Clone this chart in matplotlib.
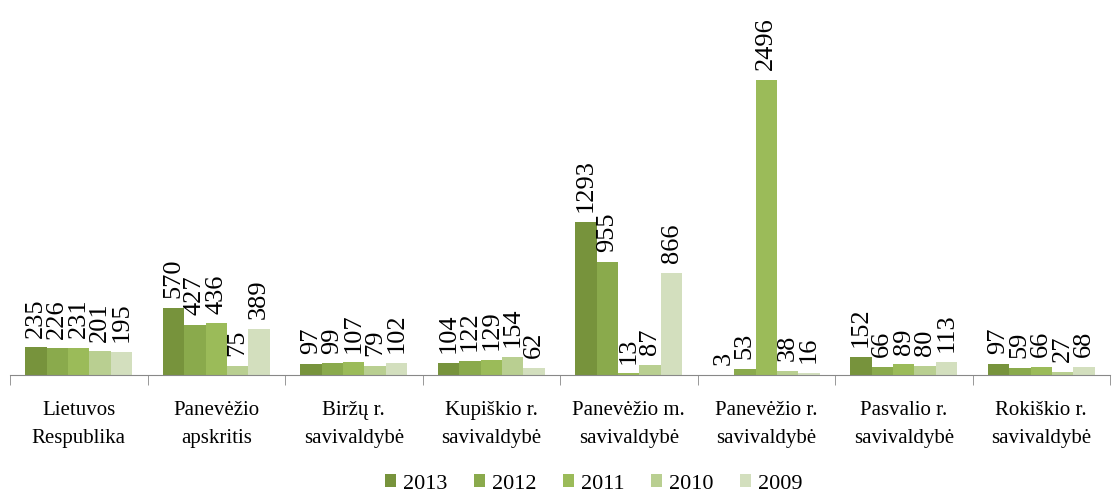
import numpy as np
import matplotlib
matplotlib.use('Agg')
import matplotlib.pyplot as plt

plt.rcParams['font.family'] = ['Liberation Serif', 'DejaVu Serif']

categories = ['Lietuvos\nRespublika', 'Panevėžio\napskritis', 'Biržų r.\nsavivaldybė',
              'Kupiškio r.\nsavivaldybė', 'Panevėžio m.\nsavivaldybė', 'Panevėžio r.\nsavivaldybė',
              'Pasvalio r.\nsavivaldybė', 'Rokiškio r.\nsavivaldybė']
years = ['2013', '2012', '2011', '2010', '2009']
v2013 = [235, 570, 97, 104, 1293, 3, 152, 97]
v2012 = [226, 427, 99, 122, 955, 53, 66, 59]
v2011 = [231, 436, 107, 129, 13, 2496, 89, 66]
v2010 = [201, 75, 79, 154, 87, 38, 80, 27]
v2009 = [195, 389, 102, 62, 866, 16, 113, 68]
series = [v2013, v2012, v2011, v2010, v2009]
colors = ['#77933C', '#8AAA4C', '#9BBB59', '#B9CF91', '#D3DFBE']

fig = plt.figure(figsize=(11.16, 4.95), dpi=100)
ax = fig.add_axes([10/1116, 120/495, 1100/1116, 375/495])

x = np.arange(len(categories))
w = 0.156
for i, (vals, c, yr) in enumerate(zip(series, colors, years)):
    pos = x + (i - 2) * w
    ax.bar(pos, vals, width=w, color=c, label=yr)
    for px, v in zip(pos, vals):
        ax.annotate(str(v), (px, v), xytext=(0, 7), textcoords='offset points',
                    rotation=90, ha='center', va='bottom', fontsize=19)

ax.set_xlim(-0.5, 7.5)
ax.set_ylim(0, 3173)
ax.set_yticks([])
for s in ['top', 'right', 'left']:
    ax.spines[s].set_visible(False)
ax.spines['bottom'].set_color('#888888')
ax.set_xticks(x)
ax.set_xticklabels(categories, fontsize=15, linespacing=1.62)
ax.tick_params(axis='x', length=0, pad=19)
ax.set_xticks(np.arange(-0.5, 8, 1), minor=True)
ax.tick_params(axis='x', which='minor', length=7, color='#888888')

fig.legend(loc='center', bbox_to_anchor=(0.532, 1 - 484/495), ncol=5, frameon=False,
           fontsize=16, handlelength=0.5, handleheight=0.5, columnspacing=1.2,
           handletextpad=0.3, borderpad=0.1)

plt.savefig('out.png', dpi=100)
